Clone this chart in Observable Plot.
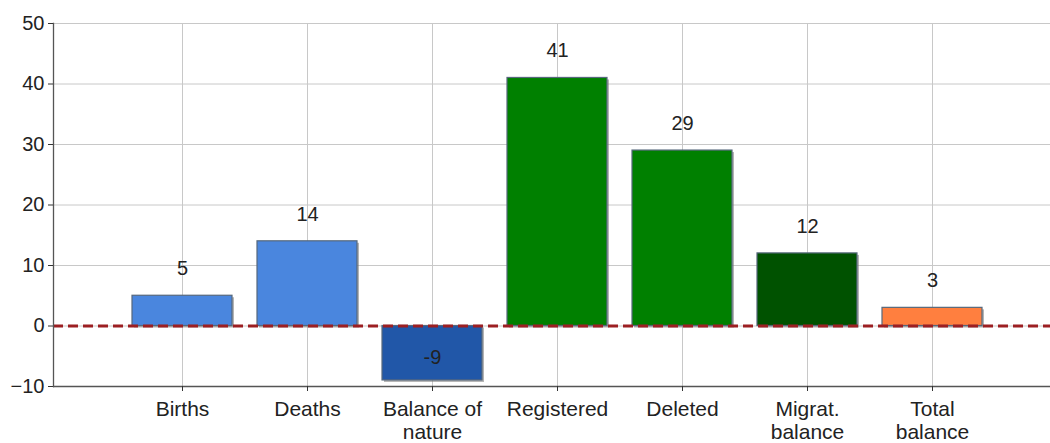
<!DOCTYPE html>
<html>
<head>
<meta charset="utf-8">
<script src="https://cdn.jsdelivr.net/npm/d3@7"></script>
<script src="https://cdn.jsdelivr.net/npm/@observablehq/plot@0.6"></script>
<style>
  html, body { margin: 0; padding: 0; background: #fff; }
  svg { display: block; }
</style>
</head>
<body>
<div id="chart"></div>
<script>
const categories = ["Births", "Deaths", "Balance of\nnature", "Registered", "Deleted", "Migrat.\nbalance", "Total\nbalance"];
const values = [5, 14, -9, 41, 29, 12, 3];
const colors = ["#4a86de", "#4a86de", "#2157a8", "#008000", "#008000", "#005200", "#ff7f3f"];
const yTicks = [-10, 0, 10, 20, 30, 40, 50];

const data = categories.map((c, i) => ({cat: c, value: values[i], color: colors[i]}));

const font = "'Liberation Sans', Arial, sans-serif";

const chart = Plot.plot({
  width: 1050,
  height: 443,
  marginLeft: 53,
  marginRight: 0,
  marginTop: 23,
  marginBottom: 57,
  style: {fontFamily: font, fontSize: "20px", color: "#222", background: "#fff"},
  x: {type: "band", domain: categories, range: [117.14, 997.14], paddingInner: 0.2, paddingOuter: 0.1, label: null},
  y: {domain: [-10, 50], label: null},
  marks: [
    Plot.gridY(yTicks, {stroke: "#c8c8c8", strokeOpacity: 1}),
    Plot.gridX(categories, {stroke: "#c8c8c8", strokeOpacity: 1}),
    Plot.barY(data, {x: "cat", y: "value", fill: "#777", fillOpacity: 0.55, dx: 2, dy: 2}),
    Plot.barY(data, {x: "cat", y: "value", fill: "color", stroke: "#56687c", strokeWidth: 1.2}),
    Plot.ruleY([0], {stroke: "#9c1f22", strokeWidth: 3, strokeDasharray: "10,5"}),
    Plot.ruleY([-10], {stroke: "#555", strokeWidth: 1.3}),
    Plot.frame({anchor: "left", stroke: "#555", strokeWidth: 1.3}),
    Plot.axisY({ticks: yTicks, tickSize: 5, tickPadding: 4, fontSize: 20, stroke: "#333", fill: "#222"}),
    Plot.axisX({tickSize: 5, tickFormat: () => "", stroke: "#333"}),
    Plot.text(data, {x: "cat", y: -10, text: "cat", dy: 13, lineAnchor: "top", lineHeight: 1.1, fontSize: 21, fill: "#222"}),
    Plot.text(data.filter(d => d.value >= 0), {x: "cat", y: "value", text: d => String(d.value), dy: -27, fontSize: 20, fill: "#222"}),
    Plot.text(data.filter(d => d.value < 0), {x: "cat", y: "value", text: d => String(d.value), dy: -23, fontSize: 20, fill: "#222"})
  ]
});
document.getElementById("chart").appendChild(chart);
</script>
</body>
</html>
